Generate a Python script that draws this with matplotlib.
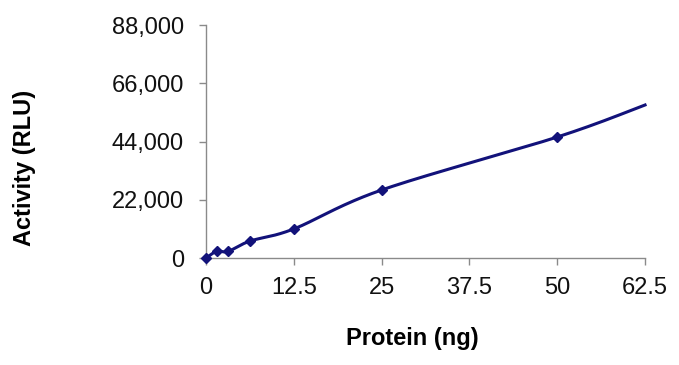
import numpy as np
import matplotlib
matplotlib.use("Agg")
import matplotlib.pyplot as plt

# Protein amount (ng) and measured activity (RLU)
protein = [0, 1.5625, 3.125, 6.25, 12.5, 25, 50, 62.5]
activity = [0, 2600, 2500, 6400, 11000, 25700, 45700, 57800]
x_ticks = [0, 12.5, 25, 37.5, 50, 62.5]
x_tick_labels = ["0", "12.5", "25", "37.5", "50", "62.5"]
y_ticks = [0, 22000, 44000, 66000, 88000]
y_tick_labels = ["0", "22,000", "44,000", "66,000", "88,000"]


def smooth_curve(xs, ys, n=40):
    # Excel-style smoothed line: cubic Bezier segments through each point
    xs = np.asarray(xs, float)
    ys = np.asarray(ys, float)
    px, py = [], []
    for i in range(len(xs) - 1):
        x0, y0 = (xs[i - 1], ys[i - 1]) if i > 0 else (xs[i], ys[i])
        x1, y1 = xs[i], ys[i]
        x2, y2 = xs[i + 1], ys[i + 1]
        x3, y3 = (xs[i + 2], ys[i + 2]) if i + 2 < len(xs) else (x2, y2)
        c1x, c1y = x1 + (x2 - x0) / 6, y1 + (y2 - y0) / 6
        c2x, c2y = x2 - (x3 - x1) / 6, y2 - (y3 - y1) / 6
        t = np.linspace(0, 1, n)
        px.extend((1 - t) ** 3 * x1 + 3 * (1 - t) ** 2 * t * c1x + 3 * (1 - t) * t ** 2 * c2x + t ** 3 * x2)
        py.extend((1 - t) ** 3 * y1 + 3 * (1 - t) ** 2 * t * c1y + 3 * (1 - t) * t ** 2 * c2y + t ** 3 * y2)
    return px, py


plt.rcParams["font.family"] = ["Liberation Sans", "DejaVu Sans"]

fig = plt.figure(figsize=(6.79, 3.65), dpi=100)
ax = fig.add_axes([0.3034, 0.293, 0.6466, 0.6385])

line_color = "#12127a"
sx, sy = smooth_curve(protein, activity)
ax.plot(sx, sy, color=line_color, linewidth=2.2, clip_on=False, zorder=3)
# markers on the measured points only
ax.plot(protein[:-1], activity[:-1], linestyle="none", marker="D", markersize=4.6,
        color=line_color, clip_on=False, zorder=4)

ax.set_xlim(0, 62.5)
ax.set_ylim(0, 88000)
ax.set_xticks(x_ticks)
ax.set_xticklabels(x_tick_labels)
ax.set_yticks(y_ticks)
ax.set_yticklabels(y_tick_labels)

for side in ["top", "right"]:
    ax.spines[side].set_visible(False)
for side in ["left", "bottom"]:
    ax.spines[side].set_color("#8a8a8a")
    ax.spines[side].set_linewidth(1.0)

ax.tick_params(axis="both", direction="out", length=5, width=1.0, color="#8a8a8a",
               labelsize=17, labelcolor="#111111")
ax.tick_params(axis="x", pad=9)
ax.tick_params(axis="y", pad=11)

fig.text(412 / 679, 1 - 338 / 365, "Protein (ng)", fontsize=17, fontweight="bold",
         ha="center", va="center")
fig.text(25 / 679, 1 - 168 / 365, "Activity (RLU)", fontsize=17, fontweight="bold",
         ha="center", va="center", rotation=90)

fig.savefig("out.png", dpi=100)
